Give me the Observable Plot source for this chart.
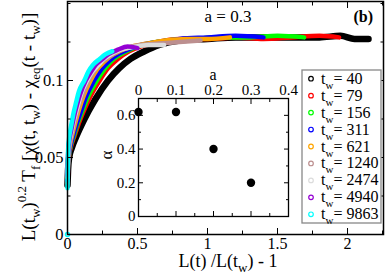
<!DOCTYPE html>
<html><head><meta charset="utf-8">
<script src="https://cdn.jsdelivr.net/npm/d3@7"></script>
<script src="https://cdn.jsdelivr.net/npm/@observablehq/plot@0.6"></script>
<style>
body{margin:0;background:#fff;}
#wrap{position:relative;width:390px;height:275px;overflow:hidden;}
#wrap svg{position:absolute;left:0;top:0;}
</style></head><body><div id="wrap"></div>
<script>
// ---- data ----
const tw = [40, 79, 156, 311, 621, 1240, 2474, 4940, 9863];
const colors = ["#000000", "#ff0000", "#00ff00", "#0000ff", "#ffa500", "#bc8f8f", "#dcdcdc", "#9400d3", "#00ffff"];

const u40 = [0,0.004,0.012,0.03,0.06,0.1,0.15,0.2,0.29,0.37,0.45,0.55,0.65,0.8,1.0,1.2,1.4,1.6,1.8,1.95,2.05,2.15];
const v40 = [0.032,0.042,0.05,0.056,0.063,0.071,0.08,0.088,0.1,0.108,0.114,0.119,0.123,0.126,0.127,0.128,0.128,0.128,0.128,0.129,0.127,0.127];
const u79 = [0,0.004,0.01,0.025,0.05,0.08,0.12,0.16,0.23,0.29,0.36,0.44,0.52,0.64,0.8,1.0,1.2,1.4,1.6,1.8,1.94];
const v79 = [0.033,0.043,0.05,0.057,0.064,0.072,0.081,0.089,0.1,0.108,0.114,0.119,0.122,0.125,0.127,0.127,0.128,0.127,0.128,0.129,0.128];
const u156 = [0,0.004,0.01,0.022,0.045,0.072,0.11,0.145,0.21,0.27,0.33,0.4,0.47,0.58,0.72,0.9,1.1,1.3,1.5,1.69];
const v156 = [0.036,0.044,0.051,0.057,0.064,0.072,0.081,0.089,0.1,0.108,0.114,0.118,0.121,0.124,0.126,0.127,0.128,0.128,0.129,0.128];
const u311 = [0,0.004,0.009,0.02,0.04,0.066,0.1,0.13,0.19,0.24,0.3,0.36,0.43,0.52,0.65,0.8,1.0,1.2,1.4];
const v311 = [0.035,0.044,0.051,0.057,0.064,0.072,0.081,0.089,0.1,0.107,0.113,0.117,0.12,0.123,0.125,0.127,0.128,0.129,0.128];
const u621 = [0,0.003,0.008,0.017,0.034,0.057,0.085,0.115,0.165,0.21,0.26,0.31,0.37,0.46,0.57,0.7,0.85,1.0,1.16];
const v621 = [0.037,0.045,0.052,0.058,0.065,0.073,0.082,0.09,0.1,0.107,0.112,0.116,0.119,0.122,0.124,0.126,0.127,0.127,0.128];
const u1240 = [0,0.003,0.007,0.016,0.031,0.052,0.078,0.104,0.15,0.19,0.23,0.29,0.34,0.42,0.52,0.65,0.8,0.95];
const v1240 = [0.038,0.046,0.053,0.059,0.066,0.074,0.083,0.09,0.1,0.106,0.111,0.115,0.118,0.121,0.123,0.124,0.125,0.126];
const u2474 = [0,0.003,0.006,0.014,0.029,0.048,0.072,0.096,0.14,0.18,0.22,0.26,0.31,0.38,0.48,0.58,0.69];
const v2474 = [0.04,0.047,0.054,0.06,0.067,0.075,0.083,0.091,0.1,0.106,0.11,0.114,0.117,0.12,0.122,0.123,0.123];
const u4940 = [0,0.002,0.006,0.013,0.027,0.045,0.067,0.09,0.13,0.17,0.2,0.25,0.29,0.36,0.43,0.5];
const v4940 = [0.038,0.047,0.055,0.061,0.068,0.076,0.084,0.091,0.1,0.106,0.11,0.114,0.117,0.12,0.122,0.121];
const u9863 = [0,0.002,0.005,0.012,0.025,0.041,0.062,0.082,0.12,0.15,0.18,0.23,0.27,0.32];
const v9863 = [0.03,0.045,0.056,0.063,0.07,0.078,0.086,0.093,0.1,0.106,0.11,0.114,0.117,0.119];
const originU = [0];
const originV = [0];

// inset data
const insetA = [0, 0.1, 0.2, 0.3];
const insetAlpha = [0.62, 0.62, 0.40, 0.20];

// ticks
const xTicks = [0, 0.5, 1, 1.5, 2];
const xMinor = [0.25, 0.75, 1.25, 1.75, 2.25];
const yTicks = [0, 0.05, 0.1];
const yMinor = [0.025, 0.075, 0.125, 0.15];
const aTicks = [0, 0.1, 0.2, 0.3, 0.4];
const aMinor = [0.05, 0.15, 0.25, 0.35];
const alphaTicks = [0, 0.2, 0.4, 0.6];
const alphaMinor = [0.1, 0.3, 0.5];

const seriesU = [u40, u79, u156, u311, u621, u1240, u2474, u4940, u9863];
const seriesV = [v40, v79, v156, v311, v621, v1240, v2474, v4940, v9863];

// ---- build ----
const FONT = "Liberation Serif";
const fmt = d => String(d);
const lineMarks = seriesU.map((us, i) => {
  const rows = us.map((u, j) => ({u, v: seriesV[i][j]}));
  return Plot.line(rows, {x: "u", y: "v", stroke: colors[i], strokeWidth: i === 0 ? 6.5 : 4.5, strokeLinecap: "round", strokeLinejoin: "round", curve: "monotone-x"});
});
const originRows = originU.map((u, j) => ({u, v: originV[j]}));

const main = Plot.plot({
  width: 390, height: 275,
  marginLeft: 67, marginRight: 7, marginTop: 1, marginBottom: 41,
  style: {fontFamily: FONT, fontSize: "16px", background: "transparent", color: "#000"},
  x: {domain: [0, 2.257], label: null},
  y: {domain: [0, 0.1513], label: null},
  marks: [
    ...lineMarks,
    Plot.dot(originRows, {x: "u", y: "v", r: 2, stroke: colors[8], strokeWidth: 1.5}),
    Plot.frame({stroke: "#000", strokeWidth: 1.5}),
    Plot.axisX(xTicks, {anchor: "bottom", tickSize: -6, tickPadding: 9, tickFormat: fmt, label: null, fontSize: 16}),
    Plot.axisX(xMinor, {anchor: "bottom", tickSize: -3.5, fill: "none", label: null}),
    Plot.axisX(xTicks, {anchor: "top", tickSize: -6, fill: "none", label: null}),
    Plot.axisX(xMinor, {anchor: "top", tickSize: -3.5, fill: "none", label: null}),
    Plot.axisY(yTicks, {anchor: "left", tickSize: -6, tickPadding: 10, tickFormat: fmt, label: null, fontSize: 16.5}),
    Plot.axisY(yMinor, {anchor: "left", tickSize: -3.5, fill: "none", label: null}),
    Plot.axisY(yTicks, {anchor: "right", tickSize: -6, fill: "none", label: null}),
    Plot.axisY(yMinor, {anchor: "right", tickSize: -3.5, fill: "none", label: null})
  ]
});

const inset = Plot.plot({
  width: 390, height: 275,
  marginLeft: 138, marginRight: 102, marginTop: 98, marginBottom: 59,
  style: {fontFamily: FONT, fontSize: "15px", background: "transparent", color: "#000"},
  x: {domain: [0, 0.4], label: null},
  y: {domain: [0, 0.7], label: null},
  marks: [
    Plot.frame({stroke: "#000", strokeWidth: 1.3, fill: "white"}),
    Plot.dot(insetA.map((a, i) => ({a, al: insetAlpha[i]})), {x: "a", y: "al", r: 4.2, fill: "#000"}),
    Plot.axisX(aTicks, {anchor: "top", tickSize: -5, tickPadding: 9, tickFormat: fmt, label: null}),
    Plot.axisX(aMinor, {anchor: "top", tickSize: -3, fill: "none", label: null}),
    Plot.axisX(aTicks, {anchor: "bottom", tickSize: -5, fill: "none", label: null}),
    Plot.axisX(aMinor, {anchor: "bottom", tickSize: -3, fill: "none", label: null}),
    Plot.axisY(alphaTicks, {anchor: "left", tickSize: -5, tickPadding: 8, tickFormat: fmt, label: null}),
    Plot.axisY(alphaMinor, {anchor: "left", tickSize: -3, fill: "none", label: null}),
    Plot.axisY(alphaTicks, {anchor: "right", tickSize: -5, fill: "none", label: null}),
    Plot.axisY(alphaMinor, {anchor: "right", tickSize: -3, fill: "none", label: null})
  ]
});

const wrap = document.getElementById("wrap");
wrap.appendChild(main);
wrap.appendChild(inset);

// ---- text annotations ----
const ms = d3.select(main);
// x label
const xl = ms.append("text").attr("x", 228).attr("y", 267).attr("text-anchor", "middle")
  .attr("font-family", FONT).attr("font-size", 18).attr("fill", "#000");
xl.append("tspan").text("L(t) /L(t");
xl.append("tspan").attr("dy", 5).attr("font-size", 13).text("w");
xl.append("tspan").attr("dy", -5).text(") - 1");

// y label
const yl = ms.append("text").attr("transform", "translate(35,127) rotate(-90)").attr("text-anchor", "middle")
  .attr("font-family", FONT).attr("font-size", 19).attr("fill", "#000");
yl.append("tspan").text("L(t");
yl.append("tspan").attr("dy", 5).attr("font-size", 13).text("w");
yl.append("tspan").attr("dy", -5).text(")");
yl.append("tspan").attr("dy", -9).attr("font-size", 13).text("0.2");
yl.append("tspan").attr("dy", 9).text(" T");
yl.append("tspan").attr("dy", 5).attr("font-size", 13).text("f");
yl.append("tspan").attr("dy", -5).text(" [χ(t, t");
yl.append("tspan").attr("dy", 5).attr("font-size", 13).text("w");
yl.append("tspan").attr("dy", -5).text(") - χ");
yl.append("tspan").attr("dy", 5).attr("font-size", 13).text("eq");
yl.append("tspan").attr("dy", -5).text("(t - t");
yl.append("tspan").attr("dy", 5).attr("font-size", 13).text("w");
yl.append("tspan").attr("dy", -5).text(")]");

// a = 0.3 and (b)
ms.append("text").attr("x", 228).attr("y", 22).attr("text-anchor", "middle")
  .attr("font-family", FONT).attr("font-size", 17).attr("fill", "#000").text("a = 0.3");
ms.append("text").attr("x", 373).attr("y", 22).attr("text-anchor", "end")
  .attr("font-family", FONT).attr("font-size", 16).attr("font-weight", "bold").attr("fill", "#000").text("(b)");

// inset labels
const is = d3.select(inset);
is.append("text").attr("x", 213).attr("y", 80).attr("text-anchor", "middle")
  .attr("font-family", FONT).attr("font-size", 16).attr("fill", "#000").text("a");
is.append("text").attr("transform", "translate(112,155) rotate(-90)").attr("text-anchor", "middle")
  .attr("font-family", FONT).attr("font-size", 17).attr("fill", "#000").text("α");

// legend (on top layer)
const lg = is.append("g").attr("text-anchor", "start");
lg.append("rect").attr("x", 302).attr("y", 70).attr("width", 79).attr("height", 153)
  .attr("fill", "white").attr("stroke", "#888").attr("stroke-width", 1.3);
tw.forEach((t, i) => {
  const cy = 78.7 + i * 16.95;
  lg.append("circle").attr("cx", 311).attr("cy", cy).attr("r", 2.3)
    .attr("fill", "none").attr("stroke", colors[i]).attr("stroke-width", 1.2);
  const tx = lg.append("text").attr("x", 321).attr("y", cy + 5).attr("text-anchor", "start")
    .attr("font-family", FONT).attr("font-size", 16).attr("fill", "#000");
  tx.append("tspan").text("t");
  tx.append("tspan").attr("dy", 5).attr("font-size", 11).text("w");
  tx.append("tspan").attr("dy", -5).text("= " + t);
});
</script></body></html>
